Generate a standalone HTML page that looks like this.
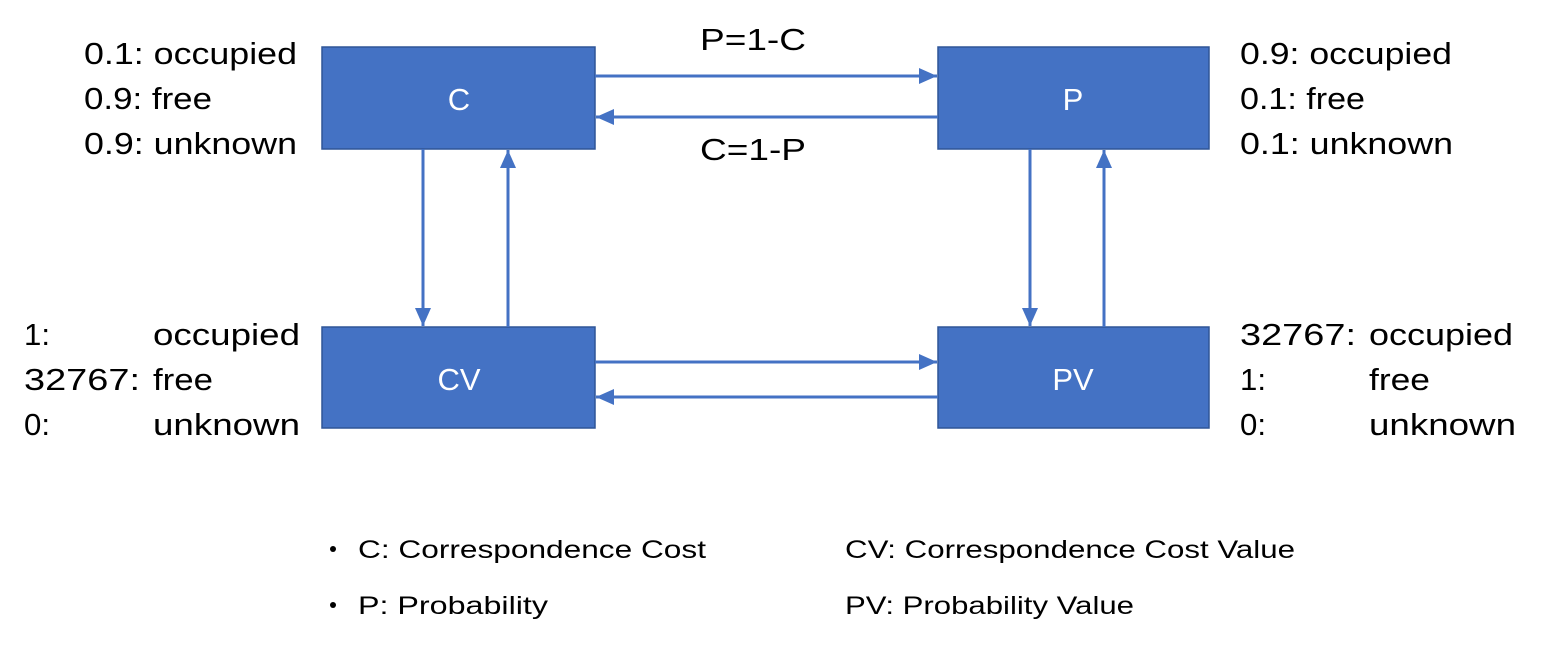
<!DOCTYPE html>
<html><head><meta charset="utf-8"><style>
html,body{margin:0;padding:0;background:#fff;}
svg{display:block;}
text{font-family:"Liberation Sans","Noto Sans CJK SC",sans-serif;}
</style></head><body>
<svg width="1556" height="651" viewBox="0 0 1556 651" xmlns="http://www.w3.org/2000/svg">
<defs>
<marker id="a" markerWidth="18" markerHeight="16" refX="18" refY="8" orient="auto" markerUnits="userSpaceOnUse" viewBox="0 0 18 16">
<path d="M0,0 L18,8 L0,16 z" fill="#4472C4"/></marker>
</defs>
<g fill="#4472C4" stroke="#2F5597" stroke-width="1.5">
<rect x="322" y="47" width="273" height="102"/>
<rect x="938" y="47" width="271" height="102"/>
<rect x="322" y="327" width="273" height="101"/>
<rect x="938" y="327" width="271" height="101"/>
</g>
<g stroke="#4472C4" stroke-width="3" marker-end="url(#a)" fill="none">
<path d="M595 76 H937"/>
<path d="M938 117 H596"/>
<path d="M595 362 H937"/>
<path d="M938 397 H596"/>
<path d="M423 149 V326"/>
<path d="M508 327 V150"/>
<path d="M1030 149 V326"/>
<path d="M1104 327 V150"/>
</g>
<g fill="#fff" font-size="31" text-anchor="middle">
<text x="459" y="110">C</text>
<text x="1073" y="110">P</text>
<text x="459" y="390">CV</text>
<text x="1073" y="390">PV</text>
</g>
<g fill="#000" font-size="31" lengthAdjust="spacingAndGlyphs">
<text x="700" y="50" textLength="106" lengthAdjust="spacingAndGlyphs">P=1-C</text>
<text x="700" y="160" textLength="106" lengthAdjust="spacingAndGlyphs">C=1-P</text>
<text x="84" y="64" textLength="213" lengthAdjust="spacingAndGlyphs">0.1: occupied</text>
<text x="84" y="109" textLength="128" lengthAdjust="spacingAndGlyphs">0.9: free</text>
<text x="84" y="154" textLength="213" lengthAdjust="spacingAndGlyphs">0.9: unknown</text>
<text x="1240" y="64" textLength="212" lengthAdjust="spacingAndGlyphs">0.9: occupied</text>
<text x="1240" y="109" textLength="125" lengthAdjust="spacingAndGlyphs">0.1: free</text>
<text x="1240" y="154" textLength="213" lengthAdjust="spacingAndGlyphs">0.1: unknown</text>
<text x="24" y="345" textLength="26" lengthAdjust="spacingAndGlyphs">1:</text><text x="153" y="345" textLength="147" lengthAdjust="spacingAndGlyphs">occupied</text>
<text x="24" y="390" textLength="116" lengthAdjust="spacingAndGlyphs">32767:</text><text x="153" y="390" textLength="60" lengthAdjust="spacingAndGlyphs">free</text>
<text x="24" y="435" textLength="26" lengthAdjust="spacingAndGlyphs">0:</text><text x="153" y="435" textLength="147" lengthAdjust="spacingAndGlyphs">unknown</text>
<text x="1240" y="345" textLength="116" lengthAdjust="spacingAndGlyphs">32767:</text><text x="1369" y="345" textLength="144" lengthAdjust="spacingAndGlyphs">occupied</text>
<text x="1240" y="390" textLength="26" lengthAdjust="spacingAndGlyphs">1:</text><text x="1369" y="390" textLength="61" lengthAdjust="spacingAndGlyphs">free</text>
<text x="1240" y="435" textLength="26" lengthAdjust="spacingAndGlyphs">0:</text><text x="1369" y="435" textLength="147" lengthAdjust="spacingAndGlyphs">unknown</text>
</g>
<g fill="#000" font-size="25">
<circle cx="333" cy="549" r="3"/>
<circle cx="333" cy="605" r="3"/>
<text x="358" y="558" textLength="348" lengthAdjust="spacingAndGlyphs">C: Correspondence Cost</text>
<text x="358" y="614" textLength="190" lengthAdjust="spacingAndGlyphs">P: Probability</text>
<text x="845" y="558" textLength="450" lengthAdjust="spacingAndGlyphs">CV: Correspondence Cost Value</text>
<text x="845" y="614" textLength="289" lengthAdjust="spacingAndGlyphs">PV: Probability Value</text>
</g>
</svg>
</body></html>
